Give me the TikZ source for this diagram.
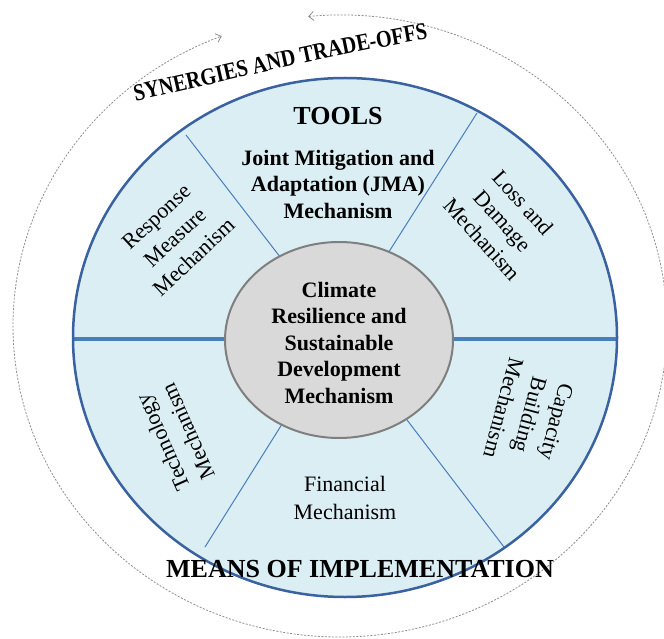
\documentclass[tikz,border=0pt]{standalone}
\usepackage{fontspec}
\setmainfont{Liberation Serif}
\newfontfamily\synfont[FakeStretch=0.84]{Liberation Serif}
\usetikzlibrary{arrows.meta,decorations.text,shapes.geometric}
\definecolor{ringfill}{HTML}{DAEEF3}
\definecolor{ringedge}{HTML}{3A62A0}
\definecolor{divline}{HTML}{4A7EBB}
\definecolor{corefill}{HTML}{D9D9D9}
\definecolor{coreedge}{HTML}{7F7F7F}
\definecolor{dashgray}{HTML}{8E8E8E}
\begin{document}
\begin{tikzpicture}[x=1pt,y=-1pt,
  boldlbl/.style={font=\fontsize{22}{26.5}\selectfont\bfseries, align=center, inner sep=0pt},
  mechlbl/.style={font=\fontsize{22}{27.5}\selectfont, align=center, inner sep=0pt},
  headlbl/.style={font=\fontsize{26}{30}\selectfont\bfseries, inner sep=0pt},
  spoke/.style={draw=divline, line width=1pt},
  axisline/.style={draw=divline, line width=4.5pt},
  dashring/.style={draw=dashgray, line width=0.8pt, dash pattern=on 2pt off 1.5pt}]
\useasboundingbox (0,0) rectangle (664,639);
\fill[white] (0,0) rectangle (664,639);
% outer dashed ring with arrows at both ends
\draw[dashring, {Straight Barb[length=5pt,width=9pt]}-{Straight Barb[length=5pt,width=9pt]}]
  (308.1,16.5) arc[start angle=-95.6, end angle=248.8, x radius=327, y radius=311];
% blue disk
\fill[ringfill] (345,337.5) ellipse [x radius=272, y radius=259.5];
% spokes
\coordinate (ulin) at (284,262); \coordinate (ulout) at (186,135);
\coordinate (urin) at (385,258); \coordinate (urout) at (477,113);
\coordinate (llin) at (284,421); \coordinate (llout) at (205,547);
\coordinate (lrin) at (404,416); \coordinate (lrout) at (504,547);
\draw[spoke] (ulin) -- (ulout);
\draw[spoke] (urin) -- (urout);
\draw[spoke] (llin) -- (llout);
\draw[spoke] (lrin) -- (lrout);
\coordinate (axl) at (74,339); \coordinate (axr) at (617,339);
\draw[axisline] (axl) -- (axr);
\draw[draw=ringedge, line width=2.5pt] (345,337.5) ellipse [x radius=272, y radius=259.5];
% core ellipse
\node[ellipse, draw=coreedge, fill=corefill, line width=2pt, minimum width=228pt, minimum height=196pt, inner sep=0pt] (core) at (339,340) {};
\node[boldlbl] (crsd) at (339,342.5) {Climate\\Resilience and\\Sustainable\\Development\\Mechanism};
% labels
\node[headlbl] (tools) at (338,116) {TOOLS};
\node[boldlbl] (jma) at (338,184) {Joint Mitigation and\\Adaptation (JMA)\\Mechanism};
\node[mechlbl, rotate=43] (rmm) at (175,237) {Response\\Measure\\Mechanism};
\node[mechlbl, rotate=-48] (ldm) at (503,221) {Loss and\\Damage\\Mechanism};
\node[mechlbl, rotate=114] (tm) at (175,437) {Technology\\Mechanism};
\node[mechlbl, rotate=-105] (cbm) at (530,415) {Capacity\\Building\\Mechanism};
\node[mechlbl] (fm) at (345,498) {Financial\\Mechanism};
\node[headlbl] (moi) at (360,569) {MEANS OF IMPLEMENTATION};
% curved heading
\path[decorate, decoration={text along path, text align=center,
  text={|\synfont\fontsize{24}{28}\selectfont\bfseries|SYNERGIES AND TRADE-OFFS}}]
  (124,104) .. controls (230,80) and (335,54) .. (440,37);
\end{tikzpicture}
\end{document}
